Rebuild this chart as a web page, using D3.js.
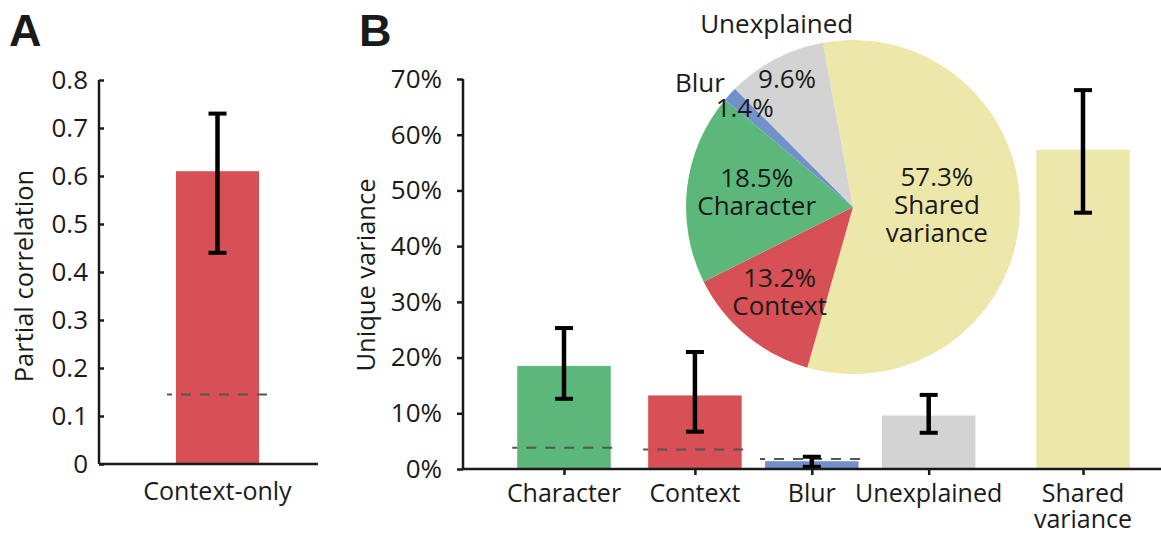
<!DOCTYPE html>
<html>
<head>
<meta charset="utf-8">
<script src="https://cdn.jsdelivr.net/npm/d3@7"></script>
<style>
body{margin:0;background:#fff;}
svg text{font-family:"Open Sans",sans-serif;fill:#1a1a1a;}
.axis path,.axis line{stroke:#1a1a1a;stroke-width:2.5;}
.axis text{font-size:26px;}
.label{font-size:25px;}
.title{font-size:25.5px;}
.pielab{font-size:26px;}
.panel{font-family:"Liberation Sans",Arial,sans-serif !important;font-weight:bold;font-size:45px;}
</style>
</head>
<body>
<div id="chart"></div>
<script>
// panel A data
const aCategory = ['Context-only'];
const aValue = [0.61];
const aErrLow = [0.44];
const aErrHigh = [0.73];
const aChance = [0.145];
const aTicks = [0, 0.1, 0.2, 0.3, 0.4, 0.5, 0.6, 0.7, 0.8];

// panel B data (percent)
const bCategories = ['Character', 'Context', 'Blur', 'Unexplained', 'Shared variance'];
const bSlots = [0, 1.12, 2.12, 3.12, 4.44];
const bValues = [18.5, 13.2, 1.4, 9.6, 57.3];
const bErrLow = [12.6, 6.7, 0.4, 6.5, 46.0];
const bErrHigh = [25.3, 21.0, 2.2, 13.3, 68.0];
const bChance = [3.8, 3.5, 1.8, null, null];
const bTicks = [0, 10, 20, 30, 40, 50, 60, 70];

// pie data (clockwise from the top)
const pieNames = ['Shared variance', 'Context', 'Character', 'Blur', 'Unexplained'];
const pieValues = [57.3, 13.2, 18.5, 1.4, 9.6];

const colors = {
  'Character': '#5cb77a',
  'Context': '#d65055',
  'Context-only': '#d65055',
  'Blur': '#7391c9',
  'Unexplained': '#d3d3d3',
  'Shared variance': '#ede7aa'
};

const svg = d3.select('#chart').append('svg')
  .attr('width', 1161).attr('height', 533);

// panel letters
svg.append('text').attr('class', 'panel').attr('x', 9).attr('y', 46).text('A');
svg.append('text').attr('class', 'panel').attr('x', 359).attr('y', 46).text('B');

//---------------- Panel A
const aX = d3.scaleBand().domain(aCategory).range([117, 318]).padding(0.415);
const aY = d3.scaleLinear().domain([0, 0.8]).range([464, 80]);

const aData = aCategory.map((c, i) => ({name: c, v: aValue[i], lo: aErrLow[i], hi: aErrHigh[i], ch: aChance[i]}));

svg.selectAll('.barA').data(aData).enter().append('rect')
  .attr('class', 'barA')
  .attr('x', d => aX(d.name)).attr('width', aX.bandwidth())
  .attr('y', d => aY(d.v)).attr('height', d => aY(0) - aY(d.v))
  .style('fill', d => colors[d.name]);

svg.selectAll('.chanceA').data(aData).enter().append('line')
  .attr('x1', d => aX(d.name) - 9).attr('x2', d => aX(d.name) + aX.bandwidth() + 11)
  .attr('y1', d => aY(d.ch)).attr('y2', d => aY(d.ch))
  .style('stroke', '#555').style('stroke-width', 2).style('stroke-dasharray', '10,9')
  .style('stroke-dashoffset', 5);

const aErr = svg.selectAll('.errA').data(aData).enter().append('g');
aErr.append('line')
  .attr('x1', d => aX(d.name) + aX.bandwidth() / 2).attr('x2', d => aX(d.name) + aX.bandwidth() / 2)
  .attr('y1', d => aY(d.lo)).attr('y2', d => aY(d.hi))
  .style('stroke', '#000').style('stroke-width', 4.5);
['lo', 'hi'].forEach(k => {
  aErr.append('line')
    .attr('x1', d => aX(d.name) + aX.bandwidth() / 2 - 9).attr('x2', d => aX(d.name) + aX.bandwidth() / 2 + 9)
    .attr('y1', d => aY(d[k])).attr('y2', d => aY(d[k]))
    .style('stroke', '#000').style('stroke-width', 4);
});

svg.append('g').attr('class', 'axis')
  .attr('transform', 'translate(99,0)')
  .call(d3.axisLeft(aY).tickValues(aTicks).tickSizeInner(-5).tickSizeOuter(0).tickPadding(11)
    .tickFormat(d => d === 0 ? '0' : d3.format('.1f')(d)))
  .call(g => g.select('.domain').attr('d', `M0,${aY(0.8)}V${aY(0)}`));

svg.append('line')
  .attr('x1', 99).attr('x2', 318).attr('y1', aY(0)).attr('y2', aY(0))
  .style('stroke', '#1a1a1a').style('stroke-width', 2.5);

svg.selectAll('.xlabA').data(aData).enter().append('text')
  .attr('class', 'label')
  .attr('x', d => aX(d.name) + aX.bandwidth() / 2).attr('y', 500)
  .attr('text-anchor', 'middle').text(d => d.name);

svg.append('text').attr('class', 'title')
  .attr('transform', `translate(33,${(aY(0) + aY(0.8)) / 2 + 4}) rotate(-90)`)
  .attr('text-anchor', 'middle').text('Partial correlation');

//---------------- Panel B
const bX = d3.scaleLinear().domain([0, 4.44]).range([564, 1083]);
const unit = bX(1) - bX(0);
const bw = unit * 0.8;
const bY = d3.scaleLinear().domain([0, 70]).range([469, 79]);

const bData = bCategories.map((c, i) => ({name: c, s: bSlots[i], v: bValues[i], lo: bErrLow[i], hi: bErrHigh[i], ch: bChance[i]}));

svg.selectAll('.barB').data(bData).enter().append('rect')
  .attr('class', 'barB')
  .attr('x', d => bX(d.s) - bw / 2).attr('width', bw)
  .attr('y', d => bY(d.v)).attr('height', d => bY(0) - bY(d.v))
  .style('fill', d => colors[d.name]);

svg.selectAll('.chanceB').data(bData.filter(d => d.ch != null)).enter().append('line')
  .attr('x1', d => bX(d.s) - bw / 2 - 5).attr('x2', d => bX(d.s) + bw / 2 + 5)
  .attr('y1', d => bY(d.ch)).attr('y2', d => bY(d.ch))
  .style('stroke', '#555').style('stroke-width', 2).style('stroke-dasharray', '10,9')
  .style('stroke-dashoffset', 5);

const bErr = svg.selectAll('.errB').data(bData).enter().append('g');
bErr.append('line')
  .attr('x1', d => bX(d.s)).attr('x2', d => bX(d.s))
  .attr('y1', d => bY(d.lo)).attr('y2', d => bY(d.hi))
  .style('stroke', '#000').style('stroke-width', 4.5);
['lo', 'hi'].forEach(k => {
  bErr.append('line')
    .attr('x1', d => bX(d.s) - 9).attr('x2', d => bX(d.s) + 9)
    .attr('y1', d => bY(d[k])).attr('y2', d => bY(d[k]))
    .style('stroke', '#000').style('stroke-width', 4);
});

svg.append('g').attr('class', 'axis')
  .attr('transform', 'translate(463,0)')
  .call(d3.axisLeft(bY).tickValues(bTicks).tickSizeInner(6).tickSizeOuter(0).tickPadding(15)
    .tickFormat(d => d + '%'))
  .call(g => g.select('.domain').attr('d', `M0,${bY(70)}V${bY(0)}`));

svg.append('g').attr('class', 'axis')
  .attr('transform', `translate(0,${bY(0)})`)
  .call(d3.axisBottom(bX).tickValues(bSlots).tickSizeInner(6).tickSizeOuter(0).tickFormat(''))
  .call(g => g.select('.domain').attr('d', 'M463,0H1161'));

svg.selectAll('.xlabB').data(bData).enter().append('text')
  .attr('class', 'label')
  .attr('x', d => bX(d.s)).attr('y', 502)
  .attr('text-anchor', 'middle')
  .each(function(d) {
    const words = d.name === 'Shared variance' ? ['Shared', 'variance'] : [d.name];
    words.forEach((w, j) => {
      d3.select(this).append('tspan').attr('x', bX(d.s)).attr('dy', j ? 26 : 0).text(w);
    });
  });

svg.append('text').attr('class', 'title')
  .attr('transform', `translate(375,${(bY(0) + bY(70)) / 2 + 1}) rotate(-90)`)
  .attr('text-anchor', 'middle').text('Unique variance');

//---------------- Pie
const cx = 853, cy = 207, R = 167;
const start = -10.4 * Math.PI / 180;
const pie = d3.pie().sort(null).value(d => d.v).startAngle(start).endAngle(start + 2 * Math.PI);
const arcs = pie(pieNames.map((n, i) => ({name: n, v: pieValues[i]})));
const arc = d3.arc().innerRadius(0).outerRadius(R);

const pg = svg.append('g').attr('transform', `translate(${cx},${cy})`);
pg.selectAll('path').data(arcs).enter().append('path')
  .attr('d', arc).style('fill', d => colors[d.data.name]);

// label layout per slice: radius and vertical nudge of the inner block, outer name radius / angle nudge
const labelLayout = {
  'Shared variance': {r: 84, dy: -6, inner: ['pct', 'Shared', 'variance']},
  'Context': {r: 115, dy: -4, inner: ['pct', 'Context']},
  'Character': {r: 97, dy: -4, inner: ['pct', 'Character']},
  'Blur': {r: 147, dy: 0, inner: ['pct'], outer: 197, turn: -3.5},
  'Unexplained': {r: 142, dy: -2, inner: ['pct'], outer: 198, turn: 5}
};
const fmt = d => d3.format('.1f')(d) + '%';

arcs.forEach(a => {
  const L = labelLayout[a.data.name];
  const c = d3.arc().innerRadius(L.r).outerRadius(L.r).centroid(a);
  const lines = L.inner.map(s => s === 'pct' ? fmt(a.data.v) : s);
  const y0 = c[1] + L.dy - (lines.length - 1) * 28 / 2;
  lines.forEach((s, j) => {
    pg.append('text').attr('class', 'pielab')
      .attr('x', c[0]).attr('y', y0 + j * 28).attr('dy', '0.35em')
      .attr('text-anchor', 'middle').text(s);
  });
  if (L.outer) {
    const mid = (a.startAngle + a.endAngle) / 2 + L.turn * Math.PI / 180;
    pg.append('text').attr('class', 'pielab')
      .attr('x', L.outer * Math.sin(mid)).attr('y', -L.outer * Math.cos(mid)).attr('dy', '0.35em')
      .attr('text-anchor', 'middle').text(a.data.name);
  }
});
</script>
</body>
</html>
